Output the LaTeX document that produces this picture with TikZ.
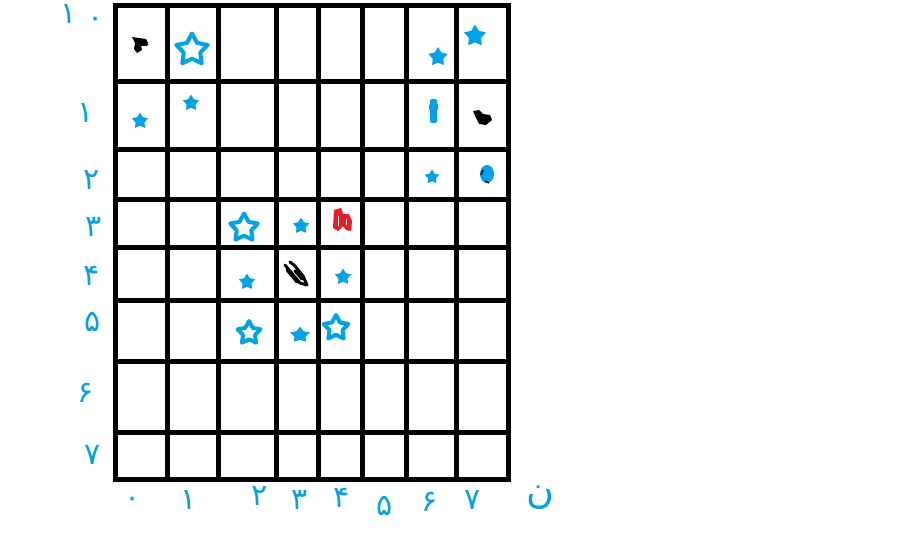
\documentclass[tikz,border=0pt]{standalone}
\usepackage{fontspec}
\newfontfamily\pfont[Script=Arabic]{DejaVu Sans}
\usetikzlibrary{shapes.geometric}
\definecolor{pblue}{HTML}{00A2E8}
\definecolor{pred}{HTML}{ED1C24}
\begin{document}
\begin{tikzpicture}[x=1pt,y=-1pt,
  gridline/.style={line width=5pt, line cap=rect},
  fstar/.style={star, star points=5, star point ratio=1.8, fill=pblue, inner sep=0pt, draw=none},
  hstar/.style={star, star points=5, star point ratio=1.9, draw=pblue, line width=4pt, line join=round, fill=white, inner sep=0pt},
  lab/.style={text=pblue, font=\pfont\fontsize{30}{32}\selectfont, inner sep=0pt},
  ink/.style={line width=3pt, line cap=round, line join=round}]
\useasboundingbox[fill=white] (0,0) rectangle (920,549);
% grid
\foreach \x in {115,167,218,276,318,362,406,456,508} \draw[gridline] (\x,5) -- (\x,479);
\foreach \y in {5,81,149,199,247,300,361,432,479} \draw[gridline] (115,\y) -- (508,\y);
% left labels
\node[lab] (l0a) at (69,14) {۱};
\node[lab] (l0) at (96,22) {۰};
\node[lab] (l1) at (86,113) {۱};
\node[lab] (l2) at (92,180) {۲};
\node[lab] (l3) at (94,227) {۳};
\node[lab] (l4) at (92,276) {۴};
\node[lab] (l5) at (93,322) {۵};
\node[lab] (l6) at (86,393) {۶};
\node[lab] (l7) at (93,455) {۷};
% bottom labels
\node[lab] (b0) at (133,502) {۰};
\node[lab] (b1) at (189,500) {۱};
\node[lab] (b2) at (260,496) {۲};
\node[lab] (b3) at (300,500) {۳};
\node[lab] (b4) at (342,498) {۴};
\node[lab] (b5) at (385,506) {۵};
\node[lab] (b6) at (430,502) {۶};
\node[lab] (b7) at (473,500) {۷};
\node[lab, font=\pfont\fontsize{38}{40}\selectfont] (bn) at (540,498) {ن};
% stars
\node[hstar, minimum size=33pt] (s1) at (192,50) {};
\node[fstar, minimum size=17pt] (s2) at (140,121) {};
\node[fstar, minimum size=17pt] (s3) at (191,103) {};
\node[fstar, minimum size=20pt] (s4) at (438,57) {};
\node[fstar, minimum size=23pt] (s5) at (475,36) {};
\node[fstar, minimum size=15pt] (s6) at (432,177) {};
\node[hstar, minimum size=29pt] (s7) at (244,228) {};
\node[fstar, minimum size=17pt] (s8) at (301,226) {};
\node[fstar, minimum size=17pt] (s9) at (247,282) {};
\node[fstar, minimum size=17pt] (s10) at (343,277) {};
\node[hstar, minimum size=24pt] (s11) at (249,333) {};
\node[fstar, minimum size=21pt, yscale=0.8] (s12) at (300,335) {};
\node[hstar, minimum size=26pt] (s13) at (336,328) {};
% blue bar
\fill[pblue, rounded corners=2pt] (430,99) rectangle (437,123);
\fill[pblue, rounded corners=1pt] (429,104) rectangle (438,110);
% blue blob with black edge
\fill[pblue] (487,174) ellipse (7pt and 9pt);
\draw[black, line width=1.5pt] (483,170) -- (481,175);
\draw[black, line width=1.5pt] (485,181) -- (489,183);
% black blob top-left
\fill[black] (132,37) -- (146,39) -- (148,43) -- (141,45) -- (142,50) -- (137,53) -- (134,49) -- (135,43) -- cycle;
\draw[ink] (137,44) -- (147,44);
% black blob right
\fill[black] (473,111) -- (479,110) -- (483,114) -- (490,115) -- (492,120) -- (486,125) -- (479,124) -- (476,118) -- cycle;
% black scribble centre
\draw[ink] (285,265) -- (300,283) -- (307,285) -- (303,276) -- (294,265) -- (290,262);
\draw[ink] (287,270) -- (297,282);
\draw[ink] (295,271) -- (302,279);
% red scribble
\fill[pred] (334,210) -- (341,208) -- (343,214) -- (349,214) -- (352,221) -- (351,231) -- (346,230) -- (343,226) -- (338,231) -- (333,228) -- cycle;
\draw[white, line width=1pt] (338,216) -- (338,226);
\draw[white, line width=1pt] (346,219) -- (346,225);
\end{tikzpicture}
\end{document}
